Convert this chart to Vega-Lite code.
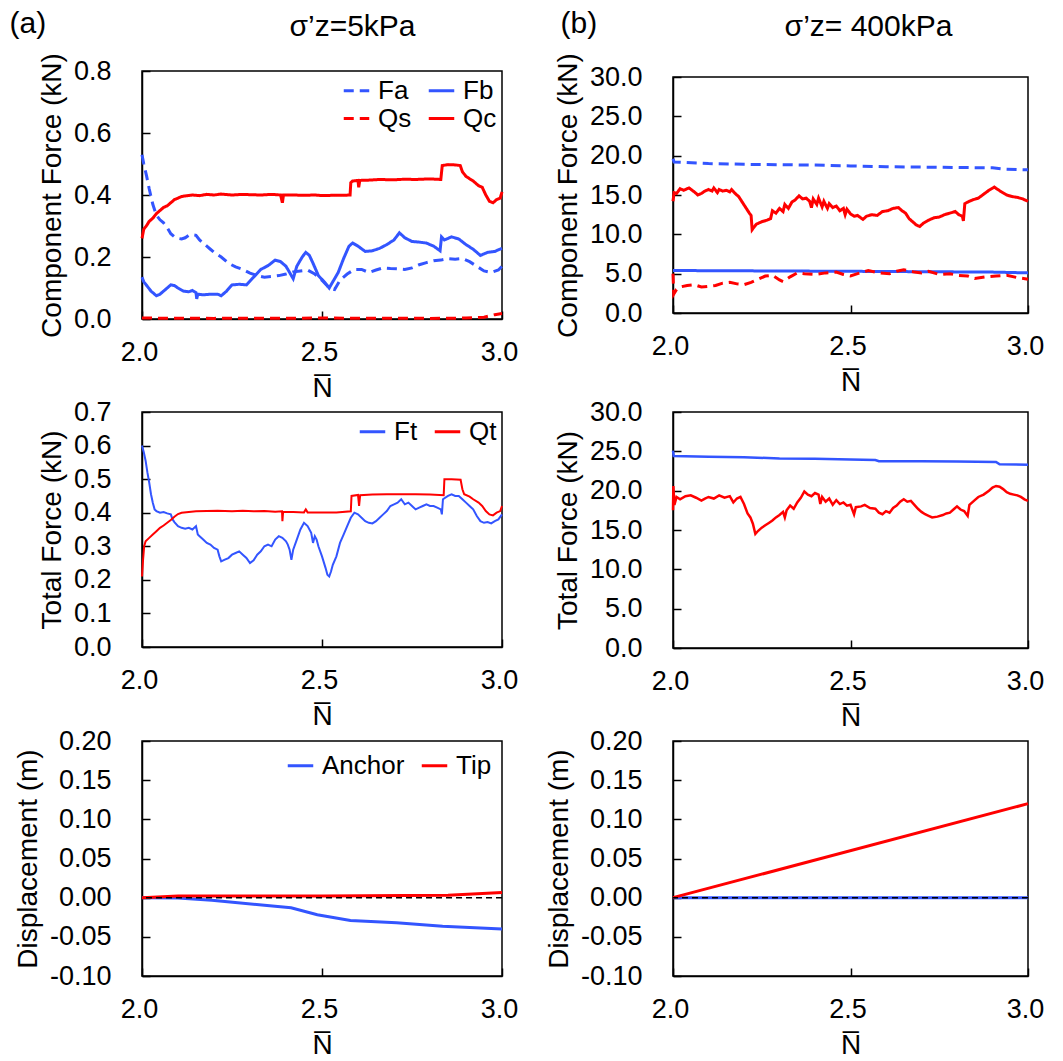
{
  "$schema": "https://vega.github.io/schema/vega-lite/v6.json",
  "autosize": {"type": "pad"},
  "padding": {"left": 8, "top": 8, "right": 5, "bottom": 5},
  "datasets": {
    "a1": [
      {"N":2.000,"v":0.26,"s":"Qc"},{"N":2.005,"v":0.29,"s":"Qc"},{"N":2.012,"v":0.30,"s":"Qc"},{"N":2.02,"v":0.315,"s":"Qc"},{"N":2.03,"v":0.325,"s":"Qc"},{"N":2.04,"v":0.34,"s":"Qc"},{"N":2.05,"v":0.35,"s":"Qc"},{"N":2.06,"v":0.36,"s":"Qc"},{"N":2.07,"v":0.365,"s":"Qc"},{"N":2.08,"v":0.375,"s":"Qc"},{"N":2.09,"v":0.385,"s":"Qc"},{"N":2.10,"v":0.39,"s":"Qc"},{"N":2.11,"v":0.395,"s":"Qc"},{"N":2.12,"v":0.397,"s":"Qc"},{"N":2.14,"v":0.40,"s":"Qc"},{"N":2.16,"v":0.398,"s":"Qc"},{"N":2.18,"v":0.402,"s":"Qc"},{"N":2.20,"v":0.40,"s":"Qc"},{"N":2.22,"v":0.403,"s":"Qc"},{"N":2.25,"v":0.40,"s":"Qc"},{"N":2.28,"v":0.402,"s":"Qc"},{"N":2.30,"v":0.401,"s":"Qc"},{"N":2.33,"v":0.40,"s":"Qc"},{"N":2.36,"v":0.402,"s":"Qc"},{"N":2.385,"v":0.40,"s":"Qc"},{"N":2.39,"v":0.375,"s":"Qc"},{"N":2.393,"v":0.40,"s":"Qc"},{"N":2.42,"v":0.40,"s":"Qc"},{"N":2.45,"v":0.399,"s":"Qc"},{"N":2.48,"v":0.40,"s":"Qc"},{"N":2.50,"v":0.398,"s":"Qc"},{"N":2.53,"v":0.399,"s":"Qc"},{"N":2.56,"v":0.399,"s":"Qc"},{"N":2.578,"v":0.40,"s":"Qc"},{"N":2.58,"v":0.44,"s":"Qc"},{"N":2.585,"v":0.445,"s":"Qc"},{"N":2.60,"v":0.447,"s":"Qc"},{"N":2.602,"v":0.425,"s":"Qc"},{"N":2.605,"v":0.447,"s":"Qc"},{"N":2.63,"v":0.448,"s":"Qc"},{"N":2.66,"v":0.45,"s":"Qc"},{"N":2.70,"v":0.449,"s":"Qc"},{"N":2.73,"v":0.451,"s":"Qc"},{"N":2.76,"v":0.45,"s":"Qc"},{"N":2.80,"v":0.452,"s":"Qc"},{"N":2.83,"v":0.45,"s":"Qc"},{"N":2.834,"v":0.495,"s":"Qc"},{"N":2.85,"v":0.498,"s":"Qc"},{"N":2.87,"v":0.497,"s":"Qc"},{"N":2.884,"v":0.495,"s":"Qc"},{"N":2.89,"v":0.475,"s":"Qc"},{"N":2.90,"v":0.46,"s":"Qc"},{"N":2.92,"v":0.445,"s":"Qc"},{"N":2.935,"v":0.43,"s":"Qc"},{"N":2.945,"v":0.425,"s":"Qc"},{"N":2.955,"v":0.40,"s":"Qc"},{"N":2.965,"v":0.38,"s":"Qc"},{"N":2.975,"v":0.375,"s":"Qc"},{"N":2.985,"v":0.385,"s":"Qc"},{"N":2.995,"v":0.39,"s":"Qc"},{"N":3.00,"v":0.41,"s":"Qc"},
      {"N":2.000,"v":0.53,"s":"Fa"},{"N":2.005,"v":0.50,"s":"Fa"},{"N":2.013,"v":0.46,"s":"Fa"},{"N":2.02,"v":0.42,"s":"Fa"},{"N":2.03,"v":0.37,"s":"Fa"},{"N":2.04,"v":0.335,"s":"Fa"},{"N":2.05,"v":0.32,"s":"Fa"},{"N":2.06,"v":0.31,"s":"Fa"},{"N":2.07,"v":0.295,"s":"Fa"},{"N":2.08,"v":0.275,"s":"Fa"},{"N":2.09,"v":0.265,"s":"Fa"},{"N":2.10,"v":0.26,"s":"Fa"},{"N":2.11,"v":0.258,"s":"Fa"},{"N":2.12,"v":0.262,"s":"Fa"},{"N":2.13,"v":0.27,"s":"Fa"},{"N":2.14,"v":0.272,"s":"Fa"},{"N":2.15,"v":0.27,"s":"Fa"},{"N":2.16,"v":0.255,"s":"Fa"},{"N":2.17,"v":0.245,"s":"Fa"},{"N":2.18,"v":0.235,"s":"Fa"},{"N":2.19,"v":0.225,"s":"Fa"},{"N":2.20,"v":0.215,"s":"Fa"},{"N":2.22,"v":0.20,"s":"Fa"},{"N":2.24,"v":0.18,"s":"Fa"},{"N":2.26,"v":0.168,"s":"Fa"},{"N":2.28,"v":0.16,"s":"Fa"},{"N":2.30,"v":0.148,"s":"Fa"},{"N":2.32,"v":0.14,"s":"Fa"},{"N":2.34,"v":0.135,"s":"Fa"},{"N":2.36,"v":0.137,"s":"Fa"},{"N":2.38,"v":0.14,"s":"Fa"},{"N":2.40,"v":0.145,"s":"Fa"},{"N":2.42,"v":0.152,"s":"Fa"},{"N":2.44,"v":0.155,"s":"Fa"},{"N":2.46,"v":0.158,"s":"Fa"},{"N":2.48,"v":0.145,"s":"Fa"},{"N":2.50,"v":0.125,"s":"Fa"},{"N":2.52,"v":0.10,"s":"Fa"},{"N":2.535,"v":0.095,"s":"Fa"},{"N":2.55,"v":0.125,"s":"Fa"},{"N":2.57,"v":0.145,"s":"Fa"},{"N":2.59,"v":0.16,"s":"Fa"},{"N":2.61,"v":0.16,"s":"Fa"},{"N":2.63,"v":0.15,"s":"Fa"},{"N":2.65,"v":0.158,"s":"Fa"},{"N":2.67,"v":0.165,"s":"Fa"},{"N":2.69,"v":0.163,"s":"Fa"},{"N":2.71,"v":0.162,"s":"Fa"},{"N":2.73,"v":0.16,"s":"Fa"},{"N":2.75,"v":0.165,"s":"Fa"},{"N":2.77,"v":0.175,"s":"Fa"},{"N":2.79,"v":0.182,"s":"Fa"},{"N":2.81,"v":0.188,"s":"Fa"},{"N":2.83,"v":0.19,"s":"Fa"},{"N":2.85,"v":0.195,"s":"Fa"},{"N":2.87,"v":0.193,"s":"Fa"},{"N":2.89,"v":0.195,"s":"Fa"},{"N":2.91,"v":0.185,"s":"Fa"},{"N":2.93,"v":0.17,"s":"Fa"},{"N":2.95,"v":0.155,"s":"Fa"},{"N":2.97,"v":0.15,"s":"Fa"},{"N":2.99,"v":0.158,"s":"Fa"},{"N":3.00,"v":0.17,"s":"Fa"},
      {"N":2.000,"v":0.135,"s":"Fb"},{"N":2.005,"v":0.12,"s":"Fb"},{"N":2.015,"v":0.105,"s":"Fb"},{"N":2.025,"v":0.09,"s":"Fb"},{"N":2.04,"v":0.075,"s":"Fb"},{"N":2.05,"v":0.08,"s":"Fb"},{"N":2.065,"v":0.095,"s":"Fb"},{"N":2.08,"v":0.11,"s":"Fb"},{"N":2.09,"v":0.108,"s":"Fb"},{"N":2.10,"v":0.10,"s":"Fb"},{"N":2.115,"v":0.09,"s":"Fb"},{"N":2.13,"v":0.088,"s":"Fb"},{"N":2.14,"v":0.092,"s":"Fb"},{"N":2.15,"v":0.085,"s":"Fb"},{"N":2.152,"v":0.065,"s":"Fb"},{"N":2.155,"v":0.08,"s":"Fb"},{"N":2.17,"v":0.078,"s":"Fb"},{"N":2.19,"v":0.08,"s":"Fb"},{"N":2.21,"v":0.08,"s":"Fb"},{"N":2.22,"v":0.075,"s":"Fb"},{"N":2.235,"v":0.09,"s":"Fb"},{"N":2.25,"v":0.11,"s":"Fb"},{"N":2.27,"v":0.112,"s":"Fb"},{"N":2.29,"v":0.11,"s":"Fb"},{"N":2.31,"v":0.135,"s":"Fb"},{"N":2.33,"v":0.16,"s":"Fb"},{"N":2.35,"v":0.172,"s":"Fb"},{"N":2.37,"v":0.19,"s":"Fb"},{"N":2.385,"v":0.185,"s":"Fb"},{"N":2.40,"v":0.17,"s":"Fb"},{"N":2.41,"v":0.15,"s":"Fb"},{"N":2.42,"v":0.13,"s":"Fb"},{"N":2.43,"v":0.17,"s":"Fb"},{"N":2.445,"v":0.20,"s":"Fb"},{"N":2.455,"v":0.215,"s":"Fb"},{"N":2.465,"v":0.205,"s":"Fb"},{"N":2.475,"v":0.18,"s":"Fb"},{"N":2.49,"v":0.14,"s":"Fb"},{"N":2.51,"v":0.115,"s":"Fb"},{"N":2.52,"v":0.10,"s":"Fb"},{"N":2.53,"v":0.12,"s":"Fb"},{"N":2.545,"v":0.15,"s":"Fb"},{"N":2.56,"v":0.195,"s":"Fb"},{"N":2.575,"v":0.235,"s":"Fb"},{"N":2.585,"v":0.245,"s":"Fb"},{"N":2.60,"v":0.235,"s":"Fb"},{"N":2.62,"v":0.218,"s":"Fb"},{"N":2.64,"v":0.22,"s":"Fb"},{"N":2.66,"v":0.228,"s":"Fb"},{"N":2.68,"v":0.24,"s":"Fb"},{"N":2.70,"v":0.255,"s":"Fb"},{"N":2.715,"v":0.278,"s":"Fb"},{"N":2.73,"v":0.262,"s":"Fb"},{"N":2.75,"v":0.25,"s":"Fb"},{"N":2.77,"v":0.248,"s":"Fb"},{"N":2.79,"v":0.245,"s":"Fb"},{"N":2.81,"v":0.235,"s":"Fb"},{"N":2.828,"v":0.22,"s":"Fb"},{"N":2.832,"v":0.265,"s":"Fb"},{"N":2.84,"v":0.255,"s":"Fb"},{"N":2.86,"v":0.265,"s":"Fb"},{"N":2.88,"v":0.258,"s":"Fb"},{"N":2.90,"v":0.24,"s":"Fb"},{"N":2.92,"v":0.225,"s":"Fb"},{"N":2.94,"v":0.205,"s":"Fb"},{"N":2.96,"v":0.215,"s":"Fb"},{"N":2.98,"v":0.218,"s":"Fb"},{"N":3.00,"v":0.228,"s":"Fb"},
      {"N":2.0,"v":0.003,"s":"Qs"},{"N":2.2,"v":0.002,"s":"Qs"},{"N":2.5,"v":0.003,"s":"Qs"},{"N":2.8,"v":0.002,"s":"Qs"},{"N":2.9,"v":0.003,"s":"Qs"},{"N":2.95,"v":0.006,"s":"Qs"},{"N":2.98,"v":0.014,"s":"Qs"},{"N":3.0,"v":0.018,"s":"Qs"}
    ],
    "b1": [
      {"N":2.000,"v":19.6,"s":"Fa"},{"N":2.003,"v":19.2,"s":"Fa"},{"N":2.1,"v":19.0,"s":"Fa"},{"N":2.2,"v":18.9,"s":"Fa"},{"N":2.3,"v":18.85,"s":"Fa"},{"N":2.4,"v":18.8,"s":"Fa"},{"N":2.5,"v":18.7,"s":"Fa"},{"N":2.6,"v":18.6,"s":"Fa"},{"N":2.7,"v":18.55,"s":"Fa"},{"N":2.8,"v":18.5,"s":"Fa"},{"N":2.9,"v":18.45,"s":"Fa"},{"N":2.93,"v":18.3,"s":"Fa"},{"N":3.0,"v":18.2,"s":"Fa"},
      {"N":2.0,"v":5.4,"s":"Fb"},{"N":2.5,"v":5.3,"s":"Fb"},{"N":2.9,"v":5.2,"s":"Fb"},{"N":3.0,"v":5.1,"s":"Fb"},
      {"N":2.000,"v":14.2,"s":"Qc"},{"N":2.003,"v":15.3,"s":"Qc"},{"N":2.01,"v":15.2,"s":"Qc"},{"N":2.02,"v":15.8,"s":"Qc"},{"N":2.03,"v":15.6,"s":"Qc"},{"N":2.045,"v":15.9,"s":"Qc"},{"N":2.06,"v":15.4,"s":"Qc"},{"N":2.07,"v":15.0,"s":"Qc"},{"N":2.08,"v":15.2,"s":"Qc"},{"N":2.09,"v":15.5,"s":"Qc"},{"N":2.10,"v":15.7,"s":"Qc"},{"N":2.11,"v":15.5,"s":"Qc"},{"N":2.115,"v":15.9,"s":"Qc"},{"N":2.125,"v":15.3,"s":"Qc"},{"N":2.13,"v":15.7,"s":"Qc"},{"N":2.14,"v":15.5,"s":"Qc"},{"N":2.15,"v":15.6,"s":"Qc"},{"N":2.16,"v":15.4,"s":"Qc"},{"N":2.165,"v":15.7,"s":"Qc"},{"N":2.175,"v":15.2,"s":"Qc"},{"N":2.185,"v":14.8,"s":"Qc"},{"N":2.195,"v":14.1,"s":"Qc"},{"N":2.205,"v":13.4,"s":"Qc"},{"N":2.215,"v":12.7,"s":"Qc"},{"N":2.22,"v":12.4,"s":"Qc"},{"N":2.223,"v":10.6,"s":"Qc"},{"N":2.228,"v":10.9,"s":"Qc"},{"N":2.235,"v":11.3,"s":"Qc"},{"N":2.25,"v":11.6,"s":"Qc"},{"N":2.265,"v":11.8,"s":"Qc"},{"N":2.275,"v":12.0,"s":"Qc"},{"N":2.28,"v":13.0,"s":"Qc"},{"N":2.29,"v":12.7,"s":"Qc"},{"N":2.30,"v":13.3,"s":"Qc"},{"N":2.31,"v":12.9,"s":"Qc"},{"N":2.315,"v":13.8,"s":"Qc"},{"N":2.325,"v":13.3,"s":"Qc"},{"N":2.335,"v":14.1,"s":"Qc"},{"N":2.345,"v":14.4,"s":"Qc"},{"N":2.355,"v":14.9,"s":"Qc"},{"N":2.365,"v":14.5,"s":"Qc"},{"N":2.375,"v":14.6,"s":"Qc"},{"N":2.385,"v":14.2,"s":"Qc"},{"N":2.39,"v":13.4,"s":"Qc"},{"N":2.395,"v":14.5,"s":"Qc"},{"N":2.405,"v":13.8,"s":"Qc"},{"N":2.41,"v":14.6,"s":"Qc"},{"N":2.42,"v":13.5,"s":"Qc"},{"N":2.425,"v":14.2,"s":"Qc"},{"N":2.435,"v":13.3,"s":"Qc"},{"N":2.44,"v":13.9,"s":"Qc"},{"N":2.45,"v":13.4,"s":"Qc"},{"N":2.46,"v":13.6,"s":"Qc"},{"N":2.47,"v":13.0,"s":"Qc"},{"N":2.48,"v":13.3,"s":"Qc"},{"N":2.485,"v":12.5,"s":"Qc"},{"N":2.49,"v":13.2,"s":"Qc"},{"N":2.50,"v":12.6,"s":"Qc"},{"N":2.51,"v":12.3,"s":"Qc"},{"N":2.52,"v":12.4,"s":"Qc"},{"N":2.535,"v":11.9,"s":"Qc"},{"N":2.545,"v":12.3,"s":"Qc"},{"N":2.56,"v":12.5,"s":"Qc"},{"N":2.575,"v":12.4,"s":"Qc"},{"N":2.59,"v":12.9,"s":"Qc"},{"N":2.605,"v":13.0,"s":"Qc"},{"N":2.62,"v":13.3,"s":"Qc"},{"N":2.635,"v":13.4,"s":"Qc"},{"N":2.645,"v":13.0,"s":"Qc"},{"N":2.655,"v":12.7,"s":"Qc"},{"N":2.665,"v":12.0,"s":"Qc"},{"N":2.675,"v":11.6,"s":"Qc"},{"N":2.685,"v":11.2,"s":"Qc"},{"N":2.695,"v":11.0,"s":"Qc"},{"N":2.705,"v":11.4,"s":"Qc"},{"N":2.72,"v":11.8,"s":"Qc"},{"N":2.735,"v":12.1,"s":"Qc"},{"N":2.75,"v":12.2,"s":"Qc"},{"N":2.765,"v":12.5,"s":"Qc"},{"N":2.78,"v":12.7,"s":"Qc"},{"N":2.795,"v":12.9,"s":"Qc"},{"N":2.805,"v":12.5,"s":"Qc"},{"N":2.815,"v":12.3,"s":"Qc"},{"N":2.818,"v":11.7,"s":"Qc"},{"N":2.822,"v":13.9,"s":"Qc"},{"N":2.83,"v":14.1,"s":"Qc"},{"N":2.845,"v":14.4,"s":"Qc"},{"N":2.86,"v":14.6,"s":"Qc"},{"N":2.875,"v":15.1,"s":"Qc"},{"N":2.89,"v":15.6,"s":"Qc"},{"N":2.905,"v":16.0,"s":"Qc"},{"N":2.915,"v":15.7,"s":"Qc"},{"N":2.925,"v":15.4,"s":"Qc"},{"N":2.94,"v":15.0,"s":"Qc"},{"N":2.955,"v":14.8,"s":"Qc"},{"N":2.97,"v":14.7,"s":"Qc"},{"N":2.985,"v":14.5,"s":"Qc"},{"N":3.00,"v":14.2,"s":"Qc"},
      {"N":2.000,"v":5.0,"s":"Qs"},{"N":2.002,"v":2.4,"s":"Qs"},{"N":2.01,"v":3.0,"s":"Qs"},{"N":2.02,"v":3.3,"s":"Qs"},{"N":2.04,"v":3.5,"s":"Qs"},{"N":2.06,"v":3.6,"s":"Qs"},{"N":2.08,"v":3.3,"s":"Qs"},{"N":2.10,"v":3.4,"s":"Qs"},{"N":2.12,"v":3.5,"s":"Qs"},{"N":2.14,"v":3.8,"s":"Qs"},{"N":2.16,"v":3.9,"s":"Qs"},{"N":2.18,"v":3.7,"s":"Qs"},{"N":2.20,"v":3.6,"s":"Qs"},{"N":2.22,"v":3.9,"s":"Qs"},{"N":2.24,"v":4.3,"s":"Qs"},{"N":2.26,"v":4.7,"s":"Qs"},{"N":2.28,"v":4.8,"s":"Qs"},{"N":2.30,"v":4.2,"s":"Qs"},{"N":2.31,"v":4.0,"s":"Qs"},{"N":2.33,"v":4.6,"s":"Qs"},{"N":2.35,"v":5.1,"s":"Qs"},{"N":2.37,"v":5.0,"s":"Qs"},{"N":2.40,"v":4.9,"s":"Qs"},{"N":2.43,"v":5.1,"s":"Qs"},{"N":2.46,"v":5.2,"s":"Qs"},{"N":2.48,"v":4.9,"s":"Qs"},{"N":2.50,"v":4.7,"s":"Qs"},{"N":2.52,"v":5.0,"s":"Qs"},{"N":2.55,"v":5.4,"s":"Qs"},{"N":2.58,"v":5.1,"s":"Qs"},{"N":2.61,"v":5.0,"s":"Qs"},{"N":2.63,"v":5.3,"s":"Qs"},{"N":2.65,"v":5.5,"s":"Qs"},{"N":2.68,"v":5.2,"s":"Qs"},{"N":2.70,"v":5.1,"s":"Qs"},{"N":2.72,"v":5.3,"s":"Qs"},{"N":2.75,"v":4.9,"s":"Qs"},{"N":2.78,"v":5.0,"s":"Qs"},{"N":2.80,"v":4.8,"s":"Qs"},{"N":2.83,"v":4.7,"s":"Qs"},{"N":2.85,"v":4.4,"s":"Qs"},{"N":2.88,"v":4.6,"s":"Qs"},{"N":2.91,"v":4.7,"s":"Qs"},{"N":2.94,"v":4.8,"s":"Qs"},{"N":2.97,"v":4.5,"s":"Qs"},{"N":3.00,"v":4.3,"s":"Qs"}
    ],
    "a2": [
      {"N":2.000,"v":0.60,"s":"Ft"},{"N":2.005,"v":0.58,"s":"Ft"},{"N":2.01,"v":0.555,"s":"Ft"},{"N":2.015,"v":0.52,"s":"Ft"},{"N":2.02,"v":0.49,"s":"Ft"},{"N":2.025,"v":0.455,"s":"Ft"},{"N":2.03,"v":0.43,"s":"Ft"},{"N":2.035,"v":0.41,"s":"Ft"},{"N":2.04,"v":0.405,"s":"Ft"},{"N":2.05,"v":0.40,"s":"Ft"},{"N":2.06,"v":0.402,"s":"Ft"},{"N":2.07,"v":0.398,"s":"Ft"},{"N":2.08,"v":0.395,"s":"Ft"},{"N":2.085,"v":0.38,"s":"Ft"},{"N":2.09,"v":0.372,"s":"Ft"},{"N":2.10,"v":0.36,"s":"Ft"},{"N":2.11,"v":0.355,"s":"Ft"},{"N":2.12,"v":0.352,"s":"Ft"},{"N":2.13,"v":0.355,"s":"Ft"},{"N":2.14,"v":0.35,"s":"Ft"},{"N":2.15,"v":0.36,"s":"Ft"},{"N":2.155,"v":0.335,"s":"Ft"},{"N":2.16,"v":0.33,"s":"Ft"},{"N":2.17,"v":0.32,"s":"Ft"},{"N":2.18,"v":0.31,"s":"Ft"},{"N":2.19,"v":0.305,"s":"Ft"},{"N":2.20,"v":0.295,"s":"Ft"},{"N":2.21,"v":0.29,"s":"Ft"},{"N":2.215,"v":0.27,"s":"Ft"},{"N":2.22,"v":0.255,"s":"Ft"},{"N":2.23,"v":0.26,"s":"Ft"},{"N":2.24,"v":0.265,"s":"Ft"},{"N":2.25,"v":0.275,"s":"Ft"},{"N":2.26,"v":0.28,"s":"Ft"},{"N":2.27,"v":0.285,"s":"Ft"},{"N":2.28,"v":0.275,"s":"Ft"},{"N":2.29,"v":0.265,"s":"Ft"},{"N":2.30,"v":0.25,"s":"Ft"},{"N":2.31,"v":0.258,"s":"Ft"},{"N":2.32,"v":0.275,"s":"Ft"},{"N":2.33,"v":0.285,"s":"Ft"},{"N":2.34,"v":0.30,"s":"Ft"},{"N":2.35,"v":0.305,"s":"Ft"},{"N":2.36,"v":0.30,"s":"Ft"},{"N":2.37,"v":0.32,"s":"Ft"},{"N":2.38,"v":0.33,"s":"Ft"},{"N":2.39,"v":0.325,"s":"Ft"},{"N":2.40,"v":0.315,"s":"Ft"},{"N":2.405,"v":0.305,"s":"Ft"},{"N":2.41,"v":0.29,"s":"Ft"},{"N":2.415,"v":0.26,"s":"Ft"},{"N":2.42,"v":0.29,"s":"Ft"},{"N":2.43,"v":0.32,"s":"Ft"},{"N":2.44,"v":0.35,"s":"Ft"},{"N":2.45,"v":0.37,"s":"Ft"},{"N":2.46,"v":0.36,"s":"Ft"},{"N":2.47,"v":0.34,"s":"Ft"},{"N":2.475,"v":0.31,"s":"Ft"},{"N":2.48,"v":0.33,"s":"Ft"},{"N":2.485,"v":0.32,"s":"Ft"},{"N":2.49,"v":0.30,"s":"Ft"},{"N":2.50,"v":0.27,"s":"Ft"},{"N":2.51,"v":0.235,"s":"Ft"},{"N":2.515,"v":0.215,"s":"Ft"},{"N":2.52,"v":0.21,"s":"Ft"},{"N":2.525,"v":0.225,"s":"Ft"},{"N":2.53,"v":0.245,"s":"Ft"},{"N":2.54,"v":0.27,"s":"Ft"},{"N":2.55,"v":0.31,"s":"Ft"},{"N":2.56,"v":0.335,"s":"Ft"},{"N":2.57,"v":0.36,"s":"Ft"},{"N":2.58,"v":0.385,"s":"Ft"},{"N":2.59,"v":0.40,"s":"Ft"},{"N":2.60,"v":0.395,"s":"Ft"},{"N":2.61,"v":0.385,"s":"Ft"},{"N":2.62,"v":0.375,"s":"Ft"},{"N":2.63,"v":0.37,"s":"Ft"},{"N":2.64,"v":0.368,"s":"Ft"},{"N":2.65,"v":0.375,"s":"Ft"},{"N":2.66,"v":0.385,"s":"Ft"},{"N":2.67,"v":0.395,"s":"Ft"},{"N":2.68,"v":0.405,"s":"Ft"},{"N":2.69,"v":0.42,"s":"Ft"},{"N":2.70,"v":0.425,"s":"Ft"},{"N":2.71,"v":0.43,"s":"Ft"},{"N":2.72,"v":0.44,"s":"Ft"},{"N":2.73,"v":0.425,"s":"Ft"},{"N":2.74,"v":0.43,"s":"Ft"},{"N":2.75,"v":0.42,"s":"Ft"},{"N":2.76,"v":0.41,"s":"Ft"},{"N":2.77,"v":0.415,"s":"Ft"},{"N":2.78,"v":0.42,"s":"Ft"},{"N":2.79,"v":0.425,"s":"Ft"},{"N":2.80,"v":0.42,"s":"Ft"},{"N":2.81,"v":0.42,"s":"Ft"},{"N":2.82,"v":0.415,"s":"Ft"},{"N":2.83,"v":0.41,"s":"Ft"},{"N":2.833,"v":0.395,"s":"Ft"},{"N":2.836,"v":0.44,"s":"Ft"},{"N":2.85,"v":0.45,"s":"Ft"},{"N":2.86,"v":0.455,"s":"Ft"},{"N":2.87,"v":0.45,"s":"Ft"},{"N":2.88,"v":0.45,"s":"Ft"},{"N":2.89,"v":0.44,"s":"Ft"},{"N":2.90,"v":0.43,"s":"Ft"},{"N":2.91,"v":0.42,"s":"Ft"},{"N":2.92,"v":0.41,"s":"Ft"},{"N":2.93,"v":0.39,"s":"Ft"},{"N":2.94,"v":0.375,"s":"Ft"},{"N":2.95,"v":0.37,"s":"Ft"},{"N":2.96,"v":0.372,"s":"Ft"},{"N":2.97,"v":0.368,"s":"Ft"},{"N":2.98,"v":0.375,"s":"Ft"},{"N":2.99,"v":0.38,"s":"Ft"},{"N":3.00,"v":0.395,"s":"Ft"},
      {"N":2.000,"v":0.21,"s":"Qt"},{"N":2.003,"v":0.26,"s":"Qt"},{"N":2.006,"v":0.30,"s":"Qt"},{"N":2.01,"v":0.315,"s":"Qt"},{"N":2.02,"v":0.325,"s":"Qt"},{"N":2.03,"v":0.335,"s":"Qt"},{"N":2.04,"v":0.345,"s":"Qt"},{"N":2.05,"v":0.355,"s":"Qt"},{"N":2.06,"v":0.362,"s":"Qt"},{"N":2.07,"v":0.37,"s":"Qt"},{"N":2.08,"v":0.378,"s":"Qt"},{"N":2.09,"v":0.388,"s":"Qt"},{"N":2.10,"v":0.396,"s":"Qt"},{"N":2.11,"v":0.40,"s":"Qt"},{"N":2.13,"v":0.402,"s":"Qt"},{"N":2.15,"v":0.404,"s":"Qt"},{"N":2.18,"v":0.405,"s":"Qt"},{"N":2.21,"v":0.406,"s":"Qt"},{"N":2.25,"v":0.404,"s":"Qt"},{"N":2.28,"v":0.406,"s":"Qt"},{"N":2.31,"v":0.404,"s":"Qt"},{"N":2.34,"v":0.405,"s":"Qt"},{"N":2.37,"v":0.403,"s":"Qt"},{"N":2.389,"v":0.404,"s":"Qt"},{"N":2.39,"v":0.375,"s":"Qt"},{"N":2.392,"v":0.403,"s":"Qt"},{"N":2.42,"v":0.402,"s":"Qt"},{"N":2.45,"v":0.401,"s":"Qt"},{"N":2.455,"v":0.41,"s":"Qt"},{"N":2.46,"v":0.401,"s":"Qt"},{"N":2.50,"v":0.401,"s":"Qt"},{"N":2.54,"v":0.401,"s":"Qt"},{"N":2.58,"v":0.404,"s":"Qt"},{"N":2.582,"v":0.45,"s":"Qt"},{"N":2.60,"v":0.453,"s":"Qt"},{"N":2.603,"v":0.42,"s":"Qt"},{"N":2.606,"v":0.452,"s":"Qt"},{"N":2.64,"v":0.454,"s":"Qt"},{"N":2.68,"v":0.455,"s":"Qt"},{"N":2.72,"v":0.455,"s":"Qt"},{"N":2.76,"v":0.455,"s":"Qt"},{"N":2.80,"v":0.454,"s":"Qt"},{"N":2.838,"v":0.452,"s":"Qt"},{"N":2.84,"v":0.50,"s":"Qt"},{"N":2.86,"v":0.50,"s":"Qt"},{"N":2.885,"v":0.498,"s":"Qt"},{"N":2.89,"v":0.47,"s":"Qt"},{"N":2.895,"v":0.455,"s":"Qt"},{"N":2.91,"v":0.448,"s":"Qt"},{"N":2.92,"v":0.44,"s":"Qt"},{"N":2.935,"v":0.43,"s":"Qt"},{"N":2.945,"v":0.42,"s":"Qt"},{"N":2.955,"v":0.405,"s":"Qt"},{"N":2.965,"v":0.395,"s":"Qt"},{"N":2.975,"v":0.392,"s":"Qt"},{"N":2.985,"v":0.40,"s":"Qt"},{"N":2.995,"v":0.405,"s":"Qt"},{"N":3.00,"v":0.42,"s":"Qt"}
    ],
    "b2": [
      {"N":2.000,"v":25.1,"s":"Ft"},{"N":2.002,"v":24.4,"s":"Ft"},{"N":2.1,"v":24.3,"s":"Ft"},{"N":2.2,"v":24.25,"s":"Ft"},{"N":2.3,"v":24.1,"s":"Ft"},{"N":2.4,"v":24.05,"s":"Ft"},{"N":2.5,"v":23.95,"s":"Ft"},{"N":2.57,"v":23.9,"s":"Ft"},{"N":2.58,"v":23.75,"s":"Ft"},{"N":2.7,"v":23.75,"s":"Ft"},{"N":2.8,"v":23.7,"s":"Ft"},{"N":2.91,"v":23.65,"s":"Ft"},{"N":2.92,"v":23.35,"s":"Ft"},{"N":3.0,"v":23.3,"s":"Ft"},
      {"N":2.000,"v":17.5,"s":"Qt"},{"N":2.001,"v":20.6,"s":"Qt"},{"N":2.004,"v":18.2,"s":"Qt"},{"N":2.01,"v":19.2,"s":"Qt"},{"N":2.02,"v":18.9,"s":"Qt"},{"N":2.035,"v":19.3,"s":"Qt"},{"N":2.05,"v":19.4,"s":"Qt"},{"N":2.065,"v":19.1,"s":"Qt"},{"N":2.08,"v":18.75,"s":"Qt"},{"N":2.09,"v":19.0,"s":"Qt"},{"N":2.10,"v":19.2,"s":"Qt"},{"N":2.115,"v":19.0,"s":"Qt"},{"N":2.13,"v":19.4,"s":"Qt"},{"N":2.145,"v":19.1,"s":"Qt"},{"N":2.16,"v":19.3,"s":"Qt"},{"N":2.17,"v":18.5,"s":"Qt"},{"N":2.18,"v":19.0,"s":"Qt"},{"N":2.19,"v":19.2,"s":"Qt"},{"N":2.20,"v":18.3,"s":"Qt"},{"N":2.21,"v":17.1,"s":"Qt"},{"N":2.218,"v":16.6,"s":"Qt"},{"N":2.225,"v":15.8,"s":"Qt"},{"N":2.232,"v":14.5,"s":"Qt"},{"N":2.24,"v":14.9,"s":"Qt"},{"N":2.25,"v":15.3,"s":"Qt"},{"N":2.26,"v":15.6,"s":"Qt"},{"N":2.27,"v":15.9,"s":"Qt"},{"N":2.28,"v":16.2,"s":"Qt"},{"N":2.29,"v":16.6,"s":"Qt"},{"N":2.30,"v":16.9,"s":"Qt"},{"N":2.31,"v":17.3,"s":"Qt"},{"N":2.315,"v":16.6,"s":"Qt"},{"N":2.32,"v":17.5,"s":"Qt"},{"N":2.33,"v":18.1,"s":"Qt"},{"N":2.34,"v":17.7,"s":"Qt"},{"N":2.35,"v":18.5,"s":"Qt"},{"N":2.36,"v":19.1,"s":"Qt"},{"N":2.37,"v":19.9,"s":"Qt"},{"N":2.38,"v":19.5,"s":"Qt"},{"N":2.39,"v":19.3,"s":"Qt"},{"N":2.40,"v":19.7,"s":"Qt"},{"N":2.41,"v":19.5,"s":"Qt"},{"N":2.415,"v":18.3,"s":"Qt"},{"N":2.42,"v":19.2,"s":"Qt"},{"N":2.43,"v":18.6,"s":"Qt"},{"N":2.44,"v":19.0,"s":"Qt"},{"N":2.45,"v":18.2,"s":"Qt"},{"N":2.46,"v":18.8,"s":"Qt"},{"N":2.47,"v":18.3,"s":"Qt"},{"N":2.48,"v":18.5,"s":"Qt"},{"N":2.49,"v":18.1,"s":"Qt"},{"N":2.50,"v":18.2,"s":"Qt"},{"N":2.51,"v":17.0,"s":"Qt"},{"N":2.515,"v":17.9,"s":"Qt"},{"N":2.53,"v":18.0,"s":"Qt"},{"N":2.54,"v":18.2,"s":"Qt"},{"N":2.555,"v":17.8,"s":"Qt"},{"N":2.57,"v":17.7,"s":"Qt"},{"N":2.58,"v":17.2,"s":"Qt"},{"N":2.59,"v":17.0,"s":"Qt"},{"N":2.60,"v":17.4,"s":"Qt"},{"N":2.61,"v":17.2,"s":"Qt"},{"N":2.62,"v":17.8,"s":"Qt"},{"N":2.63,"v":18.1,"s":"Qt"},{"N":2.64,"v":18.6,"s":"Qt"},{"N":2.65,"v":18.9,"s":"Qt"},{"N":2.66,"v":18.6,"s":"Qt"},{"N":2.67,"v":18.7,"s":"Qt"},{"N":2.68,"v":18.2,"s":"Qt"},{"N":2.69,"v":17.7,"s":"Qt"},{"N":2.70,"v":17.3,"s":"Qt"},{"N":2.71,"v":17.0,"s":"Qt"},{"N":2.72,"v":16.8,"s":"Qt"},{"N":2.73,"v":16.6,"s":"Qt"},{"N":2.745,"v":16.7,"s":"Qt"},{"N":2.76,"v":16.9,"s":"Qt"},{"N":2.77,"v":17.1,"s":"Qt"},{"N":2.78,"v":17.2,"s":"Qt"},{"N":2.79,"v":17.6,"s":"Qt"},{"N":2.80,"v":18.0,"s":"Qt"},{"N":2.81,"v":17.6,"s":"Qt"},{"N":2.82,"v":17.4,"s":"Qt"},{"N":2.83,"v":16.8,"s":"Qt"},{"N":2.835,"v":18.2,"s":"Qt"},{"N":2.85,"v":18.8,"s":"Qt"},{"N":2.86,"v":19.2,"s":"Qt"},{"N":2.875,"v":19.5,"s":"Qt"},{"N":2.89,"v":20.0,"s":"Qt"},{"N":2.90,"v":20.4,"s":"Qt"},{"N":2.91,"v":20.6,"s":"Qt"},{"N":2.92,"v":20.5,"s":"Qt"},{"N":2.93,"v":20.2,"s":"Qt"},{"N":2.94,"v":19.8,"s":"Qt"},{"N":2.95,"v":19.6,"s":"Qt"},{"N":2.96,"v":19.5,"s":"Qt"},{"N":2.97,"v":19.4,"s":"Qt"},{"N":2.98,"v":19.2,"s":"Qt"},{"N":2.99,"v":18.9,"s":"Qt"},{"N":3.00,"v":18.7,"s":"Qt"}
    ],
    "a3": [
      {"N":2.0,"v":0,"s":"Anchor"},{"N":2.1,"v":-0.0005,"s":"Anchor"},{"N":2.194,"v":-0.0034,"s":"Anchor"},{"N":2.34,"v":-0.0098,"s":"Anchor"},{"N":2.414,"v":-0.013,"s":"Anchor"},{"N":2.487,"v":-0.0217,"s":"Anchor"},{"N":2.579,"v":-0.029,"s":"Anchor"},{"N":2.707,"v":-0.032,"s":"Anchor"},{"N":2.835,"v":-0.0366,"s":"Anchor"},{"N":3.0,"v":-0.040,"s":"Anchor"},
      {"N":2.0,"v":0,"s":"Tip"},{"N":2.1,"v":0.002,"s":"Tip"},{"N":2.5,"v":0.002,"s":"Tip"},{"N":2.85,"v":0.003,"s":"Tip"},{"N":3.0,"v":0.0065,"s":"Tip"}
    ],
    "b3": [
      {"N":2.0,"v":0,"s":"Anchor"},{"N":3.0,"v":0,"s":"Anchor"},
      {"N":2.0,"v":0,"s":"Tip"},{"N":3.0,"v":0.12,"s":"Tip"}
    ],
    "zero": [{"v": 0}],
    "blank": [{"x": 2}]
  },
  "concat": [
    {
      "width": 360, "height": 248,
      "title": {"text": "(a)", "anchor": "start", "frame": "bounds", "fontSize": 30, "dx": -29, "dy": 32},
      "layer": [
        {
          "data": {"name": "a1"},
          "mark": {"type": "line", "strokeWidth": 3},
          "encoding": {
            "x": {"field": "N", "type": "quantitative", "scale": {"domain": [2, 3], "nice": false}, "axis": {"orient": "bottom", "values": [2, 2.5, 3], "format": ".1f", "title": "N\u0305"}},
            "y": {"field": "v", "type": "quantitative", "scale": {"domain": [0, 0.8], "nice": false}, "axis": {"values": [0, 0.2, 0.4, 0.6, 0.8], "format": ".1f", "title": "Component Force (kN)"}},
            "color": {"field": "s", "type": "nominal", "scale": {"domain": ["Fa", "Fb", "Qs", "Qc"], "range": ["#3355ff", "#3355ff", "#ff0000", "#ff0000"]}, "legend": {"orient": "top-right", "columns": 2, "direction": "horizontal", "title": null, "offset": 5}},
            "strokeDash": {"field": "s", "type": "nominal", "scale": {"domain": ["Fa", "Fb", "Qs", "Qc"], "range": [[10, 6], [1, 0], [10, 6], [1, 0]]}, "legend": {"orient": "top-right", "columns": 2, "direction": "horizontal", "title": null, "offset": 5}}
          }
        },
        {
          "data": {"name": "blank"},
          "mark": {"type": "rule", "opacity": 0},
          "encoding": {
            "x": {"field": "x", "type": "quantitative", "axis": {"orient": "top", "labels": false, "ticks": false, "domain": false, "title": "\u03c3\u2019z=5kPa", "titleFontSize": 30, "titlePadding": 30, "titleX": 210}}
          }
        }
      ],
      "resolve": {"axis": {"x": "independent"}}
    },
    {
      "width": 355, "height": 236,
      "title": {"text": "(b)", "anchor": "start", "frame": "bounds", "fontSize": 30, "dx": 6, "dy": 32},
      "layer": [
        {
          "data": {"name": "b1"},
          "mark": {"type": "line", "strokeWidth": 3},
          "encoding": {
            "x": {"field": "N", "type": "quantitative", "scale": {"domain": [2, 3], "nice": false}, "axis": {"orient": "bottom", "values": [2, 2.5, 3], "format": ".1f", "title": "N\u0305"}},
            "y": {"field": "v", "type": "quantitative", "scale": {"domain": [0, 30], "nice": false}, "axis": {"values": [0, 5, 10, 15, 20, 25, 30], "format": ".1f", "title": "Component Force (kN)"}},
            "color": {"field": "s", "type": "nominal", "scale": {"domain": ["Fa", "Fb", "Qs", "Qc"], "range": ["#3355ff", "#3355ff", "#ff0000", "#ff0000"]}, "legend": null},
            "strokeDash": {"field": "s", "type": "nominal", "scale": {"domain": ["Fa", "Fb", "Qs", "Qc"], "range": [[10, 6], [1, 0], [10, 6], [1, 0]]}, "legend": null}
          }
        },
        {
          "data": {"name": "blank"},
          "mark": {"type": "rule", "opacity": 0},
          "encoding": {
            "x": {"field": "x", "type": "quantitative", "axis": {"orient": "top", "labels": false, "ticks": false, "domain": false, "title": "\u03c3\u2019z= 400kPa", "titleFontSize": 30, "titlePadding": 36, "titleX": 195}}
          }
        }
      ],
      "resolve": {"axis": {"x": "independent"}}
    },
    {
      "width": 360, "height": 235,
      "data": {"name": "a2"},
      "mark": {"type": "line", "strokeWidth": 2},
      "encoding": {
        "x": {"field": "N", "type": "quantitative", "scale": {"domain": [2, 3], "nice": false}, "axis": {"values": [2, 2.5, 3], "format": ".1f", "title": "N\u0305"}},
        "y": {"field": "v", "type": "quantitative", "scale": {"domain": [0, 0.7], "nice": false}, "axis": {"values": [0, 0.1, 0.2, 0.3, 0.4, 0.5, 0.6, 0.7], "format": ".1f", "title": "Total Force (kN)"}},
        "color": {"field": "s", "type": "nominal", "scale": {"domain": ["Ft", "Qt"], "range": ["#3355ff", "#ff0000"]}, "legend": {"orient": "top-right", "columns": 2, "direction": "horizontal", "title": null, "offset": 5}}
      }
    },
    {
      "width": 355, "height": 236,
      "data": {"name": "b2"},
      "mark": {"type": "line", "strokeWidth": 2.5},
      "encoding": {
        "x": {"field": "N", "type": "quantitative", "scale": {"domain": [2, 3], "nice": false}, "axis": {"values": [2, 2.5, 3], "format": ".1f", "title": "N\u0305"}},
        "y": {"field": "v", "type": "quantitative", "scale": {"domain": [0, 30], "nice": false}, "axis": {"values": [0, 5, 10, 15, 20, 25, 30], "format": ".1f", "title": "Total Force (kN)"}},
        "color": {"field": "s", "type": "nominal", "scale": {"domain": ["Ft", "Qt"], "range": ["#3355ff", "#ff0000"]}, "legend": null}
      }
    },
    {
      "width": 360, "height": 235,
      "encoding": {
        "y": {"field": "v", "type": "quantitative", "scale": {"domain": [-0.1, 0.2], "nice": false}, "axis": {"values": [-0.1, -0.05, 0, 0.05, 0.1, 0.15, 0.2], "labelExpr": "(datum.value < 0 ? '-' : '') + format(abs(datum.value), '.2f')", "title": "Displacement (m)"}}
      },
      "layer": [
        {
          "data": {"name": "a3"},
          "mark": {"type": "line", "strokeWidth": 3},
          "encoding": {
            "x": {"field": "N", "type": "quantitative", "scale": {"domain": [2, 3], "nice": false}, "axis": {"values": [2, 2.5, 3], "format": ".1f", "title": "N\u0305"}},
            "color": {"field": "s", "type": "nominal", "scale": {"domain": ["Anchor", "Tip"], "range": ["#3355ff", "#ff0000"]}, "legend": {"orient": "top-right", "columns": 2, "direction": "horizontal", "title": null, "offset": 10}}
          }
        },
        {
          "data": {"name": "zero"},
          "mark": {"type": "rule", "color": "#000000", "strokeWidth": 1.5, "strokeDash": [6, 4]},
          "encoding": {}
        }
      ]
    },
    {
      "width": 355, "height": 235,
      "encoding": {
        "y": {"field": "v", "type": "quantitative", "scale": {"domain": [-0.1, 0.2], "nice": false}, "axis": {"values": [-0.1, -0.05, 0, 0.05, 0.1, 0.15, 0.2], "labelExpr": "(datum.value < 0 ? '-' : '') + format(abs(datum.value), '.2f')", "title": "Displacement (m)"}}
      },
      "layer": [
        {
          "data": {"name": "b3"},
          "mark": {"type": "line", "strokeWidth": 3},
          "encoding": {
            "x": {"field": "N", "type": "quantitative", "scale": {"domain": [2, 3], "nice": false}, "axis": {"values": [2, 2.5, 3], "format": ".1f", "title": "N\u0305"}},
            "color": {"field": "s", "type": "nominal", "scale": {"domain": ["Anchor", "Tip"], "range": ["#3355ff", "#ff0000"]}, "legend": null}
          }
        },
        {
          "data": {"name": "zero"},
          "mark": {"type": "rule", "color": "#000000", "strokeWidth": 1.5, "strokeDash": [6, 4]},
          "encoding": {}
        }
      ]
    }
  ],
  "columns": 2,
  "spacing": {"row": 93, "column": 171},
  "bounds": "flush",
  "center": true,
  "resolve": {
    "scale": {"color": "independent", "strokeDash": "independent"},
    "legend": {"color": "independent", "strokeDash": "independent"}
  },
  "config": {
    "font": "Liberation Sans",
    "background": "#ffffff",
    "view": {"stroke": "#000000", "strokeWidth": 1.5},
    "axis": {"grid": false, "domainColor": "#000000", "domainWidth": 1.5, "tickColor": "#000000", "tickWidth": 1.5, "tickSize": -8, "labelFont": "Liberation Sans", "labelFontSize": 27, "labelColor": "#000000", "labelOverlap": false, "titleFont": "Liberation Sans", "titleFontSize": 28, "titleFontWeight": "normal", "titleColor": "#000000"},
    "axisX": {"labelPadding": 28, "titlePadding": 9, "labelFlush": false, "labelOffset": -3},
    "axisY": {"labelPadding": 39, "titlePadding": 7},
    "legend": {"symbolType": "stroke", "symbolSize": 650, "symbolStrokeWidth": 3, "labelFont": "Liberation Sans", "labelFontSize": 26, "labelColor": "#000000", "padding": 0, "rowPadding": 0, "columnPadding": 10, "labelOffset": 7},
    "title": {"font": "Liberation Sans", "fontWeight": "normal", "color": "#000000"}
  }
}
